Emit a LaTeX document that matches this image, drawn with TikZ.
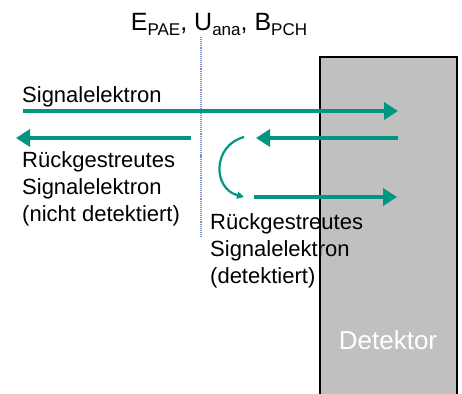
\documentclass[tikz,border=0pt]{standalone}
\usepackage{fontspec}
\setmainfont{Liberation Sans}
\usetikzlibrary{arrows.meta}
\definecolor{beam}{RGB}{0,150,128}
\definecolor{detgray}{RGB}{192,192,192}
\definecolor{axis}{RGB}{120,140,205}
\newcommand{\lowtext}[1]{\raisebox{-5bp}{\fontsize{17bp}{17bp}\selectfont #1}}

\begin{document}
\begin{tikzpicture}[x=1bp, y=-1bp,
    every node/.style={inner sep=0, font=\fontsize{22bp}{27bp}\selectfont},
    beamline/.style={draw=beam, line width=4bp, -{Triangle[length=14bp, width=17bp]}},
    turnline/.style={draw=beam, line width=2.2bp, -{Triangle[length=7bp, width=7bp]}}]
  \useasboundingbox (0, 0) rectangle (462, 393);

  % detector block
  \draw[fill=detgray, line width=2bp] (320, 57) rectangle (457, 430);
  \node[white, font=\fontsize{26bp}{30bp}\selectfont] (det) at (388, 340) {Detektor};

  % plane of the analyser
  \node[font=\fontsize{25bp}{28bp}\selectfont]
    (par) at (219, 24) {E\lowtext{PAE}, U\lowtext{ana}, B\lowtext{PCH}};
  \coordinate (ptop) at (201, 37);
  \coordinate (pbot) at (201, 238);
  \draw[axis, densely dotted, line width=1.1bp] (ptop) -- (pbot);

  % incoming electron
  \node[anchor=west] (sig) at (22, 97) {Signalelektron};
  \coordinate (in1) at (23, 111);
  \coordinate (in2) at (398, 111);
  \draw[beamline] (in1) -- (in2);

  % backscattered, lost
  \coordinate (bk1) at (398, 138);
  \coordinate (bk2) at (256, 138);
  \coordinate (lo1) at (191, 138);
  \coordinate (lo2) at (16, 138);
  \draw[beamline] (bk1) -- (bk2);
  \draw[beamline] (lo1) -- (lo2);
  \node[anchor=north west, align=left]
    (lost) at (22, 151) {Rückgestreutes\\Signalelektron\\(nicht detektiert)};

  % backscattered, turned back
  \coordinate (tu1) at (244, 137);
  \coordinate (tu2) at (244, 197);
  \draw[turnline] (tu1) to[out=195, in=165, looseness=1.4] (tu2);
  \coordinate (re1) at (254, 197);
  \coordinate (re2) at (397, 197);
  \draw[beamline] (re1) -- (re2);
  \node[anchor=north west, align=left]
    (back) at (210, 213) {Rückgestreutes\\Signalelektron\\(detektiert)};
\end{tikzpicture}
\end{document}
